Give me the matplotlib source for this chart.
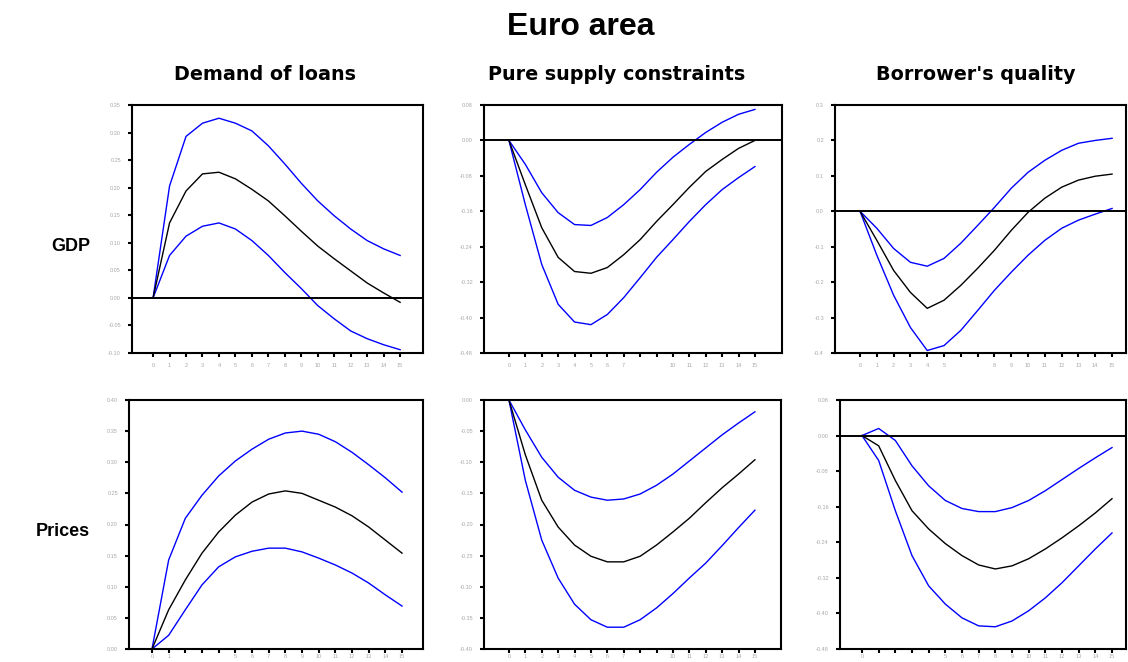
import matplotlib
matplotlib.use("Agg")
import matplotlib.pyplot as plt
import numpy as np

plt.rcParams['font.family'] = ['Liberation Sans', 'DejaVu Sans']

# Horizon (quarters)
horizon = list(range(16))

# --- GDP responses -------------------------------------------------------
gdp_demand_mid = [0.0, 0.136, 0.194, 0.225, 0.228, 0.216, 0.197, 0.176, 0.149, 0.121,
                  0.094, 0.071, 0.049, 0.027, 0.009, -0.008]
gdp_demand_hi = [0.0, 0.203, 0.293, 0.317, 0.326, 0.317, 0.303, 0.276, 0.243, 0.208,
                 0.176, 0.149, 0.125, 0.104, 0.089, 0.077]
gdp_demand_lo = [0.0, 0.077, 0.112, 0.130, 0.136, 0.125, 0.104, 0.077, 0.046, 0.017,
                 -0.014, -0.038, -0.060, -0.074, -0.085, -0.094]

gdp_supply_mid = [0.0, -0.100, -0.197, -0.264, -0.296, -0.300, -0.287, -0.258, -0.224, -0.183,
                  -0.145, -0.106, -0.070, -0.043, -0.018, 0.000]
gdp_supply_hi = [0.0, -0.054, -0.118, -0.163, -0.190, -0.192, -0.174, -0.145, -0.111, -0.072,
                 -0.038, -0.009, 0.018, 0.041, 0.059, 0.070]
gdp_supply_lo = [0.0, -0.145, -0.280, -0.370, -0.410, -0.416, -0.393, -0.355, -0.310, -0.264,
                 -0.224, -0.183, -0.145, -0.111, -0.084, -0.059]

gdp_quality_mid = [0.0, -0.082, -0.167, -0.229, -0.274, -0.251, -0.209, -0.161, -0.110, -0.054,
                   -0.003, 0.037, 0.068, 0.088, 0.099, 0.105]
gdp_quality_hi = [0.0, -0.048, -0.105, -0.144, -0.155, -0.133, -0.090, -0.040, 0.011, 0.065,
                  0.110, 0.144, 0.172, 0.192, 0.200, 0.206]
gdp_quality_lo = [0.0, -0.124, -0.237, -0.328, -0.393, -0.379, -0.336, -0.280, -0.223, -0.172,
                  -0.124, -0.082, -0.048, -0.025, -0.008, 0.008]

# --- Price responses -----------------------------------------------------
prc_demand_mid = [0.0, 0.063, 0.111, 0.154, 0.188, 0.215, 0.236, 0.249, 0.254, 0.250,
                  0.239, 0.228, 0.214, 0.196, 0.175, 0.154]
prc_demand_hi = [0.0, 0.143, 0.210, 0.247, 0.278, 0.302, 0.321, 0.337, 0.347, 0.350,
                 0.345, 0.333, 0.316, 0.296, 0.275, 0.252]
prc_demand_lo = [0.0, 0.022, 0.063, 0.103, 0.132, 0.148, 0.157, 0.162, 0.162, 0.156,
                 0.146, 0.135, 0.122, 0.106, 0.087, 0.069]

prc_supply_mid = [0.0, -0.088, -0.161, -0.204, -0.233, -0.251, -0.260, -0.260, -0.251, -0.233,
                  -0.212, -0.190, -0.165, -0.141, -0.119, -0.096]
prc_supply_hi = [0.0, -0.048, -0.092, -0.124, -0.145, -0.156, -0.161, -0.159, -0.151, -0.137,
                 -0.119, -0.098, -0.077, -0.056, -0.037, -0.019]
prc_supply_lo = [0.0, -0.129, -0.225, -0.286, -0.328, -0.353, -0.365, -0.365, -0.353, -0.334,
                 -0.311, -0.286, -0.262, -0.234, -0.205, -0.177]

prc_quality_mid = [0.0, -0.023, -0.101, -0.169, -0.210, -0.243, -0.270, -0.291, -0.300, -0.293,
                   -0.277, -0.255, -0.230, -0.203, -0.174, -0.142]
prc_quality_hi = [0.0, 0.016, -0.011, -0.068, -0.113, -0.146, -0.164, -0.171, -0.171, -0.162,
                  -0.146, -0.124, -0.099, -0.074, -0.050, -0.027]
prc_quality_lo = [0.0, -0.056, -0.169, -0.270, -0.338, -0.379, -0.410, -0.428, -0.430, -0.417,
                  -0.394, -0.365, -0.331, -0.293, -0.255, -0.219]

# Column / row headings
column_titles = ["Demand of loans", "Pure supply constraints", "Borrower's quality"]
row_titles = ["GDP", "Prices"]

# Y tick values for each panel
yticks_gdp_demand = [-0.10, -0.05, 0.00, 0.05, 0.10, 0.15, 0.20, 0.25, 0.30, 0.35]
yticks_gdp_supply = [-0.48, -0.40, -0.32, -0.24, -0.16, -0.08, 0.00, 0.08]
yticks_gdp_quality = [-0.4, -0.3, -0.2, -0.1, 0.0, 0.1, 0.2, 0.3]
yticks_prc_demand = [0.00, 0.05, 0.10, 0.15, 0.20, 0.25, 0.30, 0.35, 0.40]
yticks_prc_supply = [-0.40, -0.35, -0.30, -0.25, -0.20, -0.15, -0.10, -0.05, 0.00]
yticks_prc_quality = [-0.48, -0.40, -0.32, -0.24, -0.16, -0.08, 0.00, 0.08]

# X tick labels (crowded labels are dropped by the plotting package)
def xlabels(hidden):
    return ["" if h in hidden else str(h) for h in horizon]

xlab_gdp_demand = xlabels([])
xlab_gdp_supply = xlabels([8, 9])
xlab_gdp_quality = xlabels([6, 7])
xlab_prc_demand = xlabels([2, 3, 4])
xlab_prc_supply = xlabels([8, 9])
xlab_prc_quality = xlabels([1, 2, 3, 4])

W, H = 1128, 662
fig = plt.figure(figsize=(W / 100, H / 100), dpi=100)

# Panel boxes in pixels: left, right, top, bottom; x limits; x label pad
panels = [
    dict(box=(132, 423, 105, 353), xlim=(-1.28, 16.39), yt=yticks_gdp_demand, fmt="{:.2f}",
         xl=xlab_gdp_demand, xpad=4, data=(gdp_demand_mid, gdp_demand_hi, gdp_demand_lo)),
    dict(box=(484, 782, 105, 353), xlim=(-1.52, 16.65), yt=yticks_gdp_supply, fmt="{:.2f}",
         xl=xlab_gdp_supply, xpad=4, data=(gdp_supply_mid, gdp_supply_hi, gdp_supply_lo)),
    dict(box=(835, 1126, 105, 353), xlim=(-1.49, 15.83), yt=yticks_gdp_quality, fmt="{:.1f}",
         xl=xlab_gdp_quality, xpad=4, data=(gdp_quality_mid, gdp_quality_hi, gdp_quality_lo)),
    dict(box=(129, 423, 400, 649), xlim=(-1.38, 16.26), yt=yticks_prc_demand, fmt="{:.2f}",
         xl=xlab_prc_demand, xpad=0.5, data=(prc_demand_mid, prc_demand_hi, prc_demand_lo)),
    dict(box=(484, 781, 400, 649), xlim=(-1.52, 16.59), yt=yticks_prc_supply, fmt="{:.2f}",
         xl=xlab_prc_supply, xpad=0.5, data=(prc_supply_mid, prc_supply_hi, prc_supply_lo)),
    dict(box=(840, 1126, 400, 649), xlim=(-1.32, 15.84), yt=yticks_prc_quality, fmt="{:.2f}",
         xl=xlab_prc_quality, xpad=0.5, data=(prc_quality_mid, prc_quality_hi, prc_quality_lo)),
]

label_grey = "#a8a8a8"
for p in panels:
    l, r, t, b = p["box"]
    ax = fig.add_axes([l / W, 1 - b / H, (r - l) / W, (b - t) / H])
    mid, hi, lo = p["data"]
    ax.plot(horizon, hi, color="#0000ff", lw=1.0)
    ax.plot(horizon, lo, color="#0000ff", lw=1.0)
    ax.plot(horizon, mid, color="black", lw=1.0)
    yt = p["yt"]
    ax.set_ylim(yt[0], yt[-1])
    ax.set_xlim(*p["xlim"])
    if yt[0] < 0 < yt[-1]:
        ax.axhline(0, color="black", lw=1.4)
    ax.set_yticks(yt)
    ax.set_yticklabels([p["fmt"].format(v) for v in yt])
    ax.set_xticks(horizon)
    ax.set_xticklabels(p["xl"])
    for s in ax.spines.values():
        s.set_linewidth(1.5)
    ax.tick_params(direction="out", length=3, width=1.5, labelsize=4,
                   labelcolor=label_grey)
    ax.tick_params(axis="y", pad=5)
    ax.tick_params(axis="x", pad=p["xpad"])

fig.text(581 / W, 1 - 27 / H, "Euro area", ha="center", va="center",
         fontsize=23, fontweight="bold")
for x, title in zip([265, 617, 976], column_titles):
    fig.text(x / W, 1 - 75 / H, title, ha="center", va="center",
             fontsize=13.8, fontweight="bold", family=["DejaVu Sans"])
for x, y, title in zip([71, 63], [247, 532], row_titles):
    fig.text(x / W, 1 - y / H, title, ha="center", va="center",
             fontsize=13, fontweight="bold")

fig.savefig("out.png", dpi=100)
